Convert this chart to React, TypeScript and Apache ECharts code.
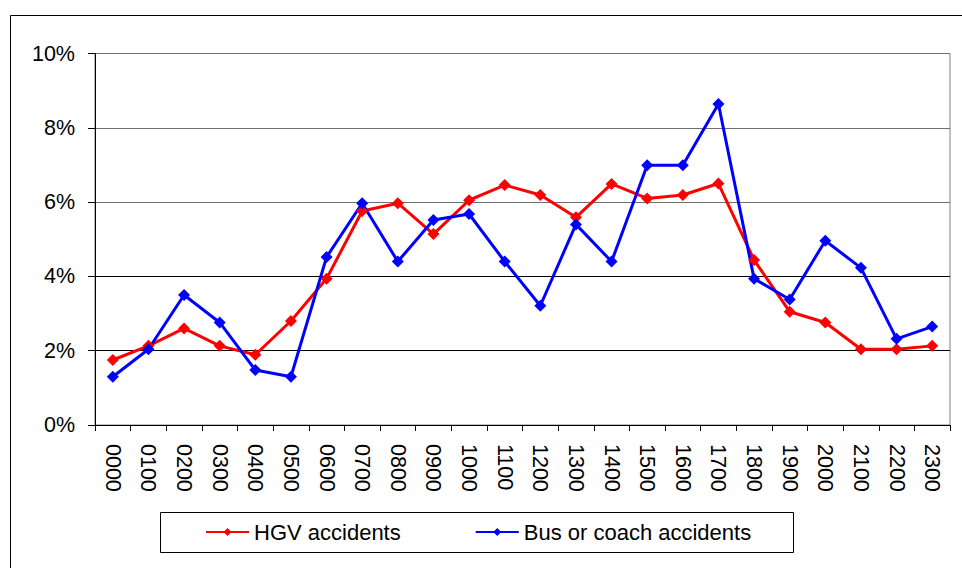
import React, { useEffect, useRef } from "react";
import * as echarts from "echarts";

const hours = ["0000","0100","0200","0300","0400","0500","0600","0700","0800","0900","1000","1100","1200","1300","1400","1500","1600","1700","1800","1900","2000","2100","2200","2300"];
const hgv = [1.75,2.13,2.6,2.13,1.89,2.8,3.94,5.76,5.97,5.14,6.05,6.46,6.19,5.59,6.49,6.1,6.19,6.5,4.44,3.05,2.76,2.04,2.04,2.13];
const bus = [1.3,2.04,3.5,2.76,1.48,1.3,4.52,5.97,4.4,5.52,5.68,4.4,3.21,5.4,4.4,6.99,6.99,8.64,3.94,3.38,4.96,4.23,2.32,2.65];
const yTicks = { min: 0, max: 10, interval: 2 };

const FONT = "Liberation Sans, Arial, sans-serif";

export default function App() {
  const ref = useRef<HTMLDivElement>(null);
  useEffect(() => {
    document.body.style.margin = "0";
    const chart = echarts.init(ref.current!, null, { renderer: "svg" });
    chart.setOption({
      animation: false,
      backgroundColor: "#fff",
      textStyle: { fontFamily: FONT, color: "#000" },
      grid: {
        left: 95, top: 53.5, right: 12, bottom: 143,
        show: true, borderColor: "#808080", borderWidth: 1, backgroundColor: "transparent",
      },
      xAxis: {
        type: "category",
        data: hours,
        boundaryGap: true,
        axisLine: { lineStyle: { color: "#000", width: 1 } },
        axisTick: { show: true, alignWithLabel: false, length: 6, lineStyle: { color: "#000" } },
        axisLabel: { rotate: -90, margin: 19, fontSize: 21.5, color: "#000", fontFamily: FONT, interval: 0 },
      },
      yAxis: {
        type: "value",
        min: yTicks.min, max: yTicks.max, interval: yTicks.interval,
        axisLine: { show: true, lineStyle: { color: "#000", width: 1 } },
        axisTick: { show: true, length: 7, lineStyle: { color: "#000" } },
        axisLabel: { formatter: "{value}%", fontSize: 21.5, color: "#000", margin: 20, fontFamily: FONT },
        splitLine: { show: true, lineStyle: { color: ["#000", "#000", "#000", "#6e6e6e", "#6e6e6e", "#6e6e6e"], width: 1 } },
      },
      legend: {
        left: 200, top: 516,
        itemWidth: 43, itemHeight: 10, itemGap: 74,
        textStyle: { fontSize: 22, color: "#000", fontFamily: FONT },
        data: ["HGV accidents", "Bus or coach accidents"],
      },
      graphic: [
        { type: "rect", shape: { x: 10.5, y: 15.5, width: 1000, height: 600 }, style: { fill: "none", stroke: "#000", lineWidth: 1 }, silent: true, z: -1 },
        { type: "rect", shape: { x: 160.5, y: 512.5, width: 633, height: 40 }, style: { fill: "none", stroke: "#000", lineWidth: 1 }, silent: true },
      ],
      series: [
        {
          name: "HGV accidents", type: "line", data: hgv,
          symbol: "diamond", symbolSize: 12,
          lineStyle: { color: "#ff0000", width: 3 },
          itemStyle: { color: "#ff0000" },
        },
        {
          name: "Bus or coach accidents", type: "line", data: bus,
          symbol: "diamond", symbolSize: 12,
          lineStyle: { color: "#0000ff", width: 3 },
          itemStyle: { color: "#0000ff" },
        },
      ],
    });
    return () => chart.dispose();
  }, []);
  return <div ref={ref} style={{ width: 962, height: 568 }} />;
}
